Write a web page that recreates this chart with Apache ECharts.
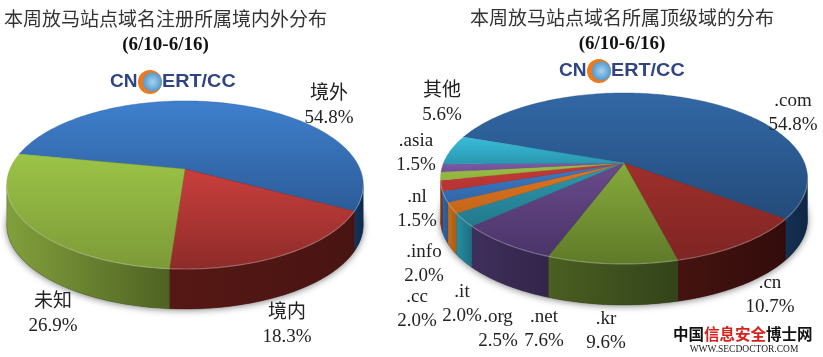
<!DOCTYPE html>
<html><head><meta charset="utf-8">
<style>html,body{margin:0;padding:0;background:#fff}#c{width:823px;height:357px}</style>
<script src="https://cdn.jsdelivr.net/npm/echarts@6/dist/echarts.min.js"></script>
</head><body><div id="c"></div>
<script>
// ---- data ----
const regionNames = ['境外','境内','未知'];
const regionValues = [54.8,18.3,26.9];
const domainNames = ['.com','.cn','.kr','.net','.org','.it','.cc','.info','.nl','.asia','其他'];
const domainValues = [54.8,10.7,9.6,7.6,2.5,2.0,2.0,2.0,1.5,1.5,5.6];
const titleLeft = '本周放马站点域名注册所属境内外分布';
const titleRight = '本周放马站点域名所属顶级域的分布';
const dateRange = '(6/10-6/16)';

// ---- styles ----
const SERIF = '"Liberation Serif","Noto Sans CJK SC",serif';
const regionColors = [
  {top:['#3f80cd','#2c5c99'],side:['#14345f','#0f2949']},
  {top:['#c93f3c','#8d2b29'],side:['#571815','#481412']},
  {top:['#9cc447','#7c9a37'],side:['#82a03c','#4e6222']}
];
const domainColors = [
  {top:['#3268a6','#234b7a'],side:['#143054','#0e2745']},
  {top:['#9f2f2c','#7e2523'],side:['#45130f','#320c0b']},
  {top:['#86aa3c','#5f7a29'],side:['#4a5f20','#33431a']},
  {top:['#6a4a8c','#4a3468'],side:['#3f2f5c','#33254a']},
  {top:['#2f99ae','#23788c'],side:['#268ea2','#1c6f82']},
  {top:['#e0761f','#c4661a'],side:['#c4701c','#a85c14']},
  {top:['#3d7cc6','#2f66a8'],side:['#2f66a8','#28588f']},
  {top:['#c63a38','#b43331'],side:['#8f2b29','#7d2523']},
  {top:['#9bbf45','#8fb33e'],side:['#6f8a30','#6f8a30']},
  {top:['#7d5aa6','#6f4f96'],side:['#5a4080','#5a4080']},
  {top:['#39bddc','#2a96ad'],side:['#2a96ad','#2a96ad']}
];
const regionLayout = {apex:[185,169],scaleX:175,scaleY:81,persp:0.19,depth:40,start:281};
const domainLayout = {apex:[624,163],scaleX:180.5,scaleY:82.7,persp:0.181,depth:41,start:289.5};
const regionLabelAt = [[329,106],[287,325],[53,314]];
const domainLabelAt = [[793,113],[770,295],[606,331],[544,329],[498,329],[462,304],[417,309],[424,264],[417,209],[416,153],[442,103]];

const rad = Math.PI/180;
function project(L,t,dy){
  const u=Math.sin(t*rad), v=-Math.cos(t*rad), w=1-L.persp*v;
  return [L.apex[0]+L.scaleX*u/w, L.apex[1]+L.scaleY*v/w+(dy||0)];
}
function arcPts(L,a,b,dy){
  const p=[], n=Math.max(2,Math.ceil((b-a)));
  for(let i=0;i<=n;i++) p.push(project(L,a+(b-a)*i/n,dy));
  return p;
}
function grad(c,horizontal){
  return {type:'linear',x:0,y:0,x2:horizontal?1:0,y2:horizontal?0:1,
    colorStops:[{offset:0,color:c[0]},{offset:1,color:c[1]}]};
}
// part of [a,b] that lies on the visible front wall, honouring wrap-around
function frontRanges(L,a,b){
  const t0=Math.acos(-L.persp)/rad, t1=360-t0, out=[];
  for(const k of [-360,0,360]){
    const s=Math.max(a,t0+k), e=Math.min(b,t1+k);
    if(e>s) out.push([s,e]);
  }
  return out;
}
function pieSeries(names,values,colors,L,labelAt){
  const total=values.reduce((s,x)=>s+x,0);
  return {
    type:'custom',coordinateSystem:'none',silent:true,animation:false,clip:false,
    data:values.map((v,i)=>({name:names[i],value:[v]})),
    renderItem(params,api){
      const i=params.dataIndex;
      let before=0; for(let k=0;k<i;k++) before+=values[k];
      const val=api.value(0);
      const a=L.start+before/total*360, b=a+val/total*360;
      const kids=[];
      if(i===0){
        const ring=arcPts(L,0,360,L.depth);
        kids.push({type:'polygon',z2:0,shape:{points:ring},
          style:{fill:'#555',shadowBlur:7,shadowColor:'rgba(0,0,0,0.5)',shadowOffsetY:1}});
      }
      for(const [s,e] of frontRanges(L,a,b)){
        const up=arcPts(L,s,e,0), low=arcPts(L,s,e,L.depth).reverse();
        kids.push({type:'polygon',z2:1,shape:{points:up.concat(low)},
          style:{fill:grad(colors[i].side,true),stroke:colors[i].side[1],lineWidth:0.4}});
      }
      kids.push({type:'polygon',z2:2,
        shape:{points:[L.apex].concat(arcPts(L,a,b,0))},
        style:{fill:grad(colors[i].top,false),stroke:colors[i].top[1],lineWidth:0.4}});
      for(const [s,e] of frontRanges(L,a,b)){
        kids.push({type:'polyline',z2:3,shape:{points:arcPts(L,s,e,0)},
          style:{fill:null,stroke:'rgba(255,255,255,0.28)',lineWidth:1.2}});
      }
      kids.push({type:'text',z2:5,x:labelAt[i][0],y:labelAt[i][1],
        style:{text:names[i]+'\n'+val.toFixed(1)+'%',font:'19px '+SERIF,fill:'#222',
          align:'center',verticalAlign:'middle',lineHeight:24}});
      return {type:'group',children:kids};
    }
  };
}
function logo(dx,dy){
  const base={font:'bold 18px "Liberation Sans",Arial,sans-serif',fill:'#2f4583',verticalAlign:'middle'};
  return [
    {type:'text',x:110+dx,y:82+dy,scaleX:1.06,style:Object.assign({text:'CN'},base)},
    {type:'circle',shape:{cx:150+dx,cy:82+dy,r:12},style:{fill:'#ec7a1c'}},
    {type:'circle',shape:{cx:152.5+dx,cy:82+dy,r:9.5},style:{fill:{type:'radial',x:0.5,y:0.5,r:0.6,
      colorStops:[{offset:0,color:'#a9d2ee'},{offset:1,color:'#3f8fcb'}]}}},
    {type:'text',x:162+dx,y:82+dy,scaleX:1.1,style:Object.assign({text:'ERT/CC'},base)}
  ];
}
function wm(x,text,fill){
  return {type:'text',x:x,y:334,style:{text:text,fill:fill,font:'bold 15.5px "Noto Sans CJK SC",sans-serif',verticalAlign:'middle'}};
}
const option={
  animation:false,
  backgroundColor:'#fff',
  title:[
    {text:titleLeft,left:4,top:12,textStyle:{fontFamily:SERIF,fontSize:19,fontWeight:'normal',color:'#333'},padding:0},
    {text:dateRange,left:165.5,textAlign:'center',top:36,textStyle:{fontFamily:SERIF,fontSize:19,fontWeight:'bold',color:'#111'},padding:0},
    {text:titleRight,left:470,top:11,textStyle:{fontFamily:SERIF,fontSize:19,fontWeight:'normal',color:'#333'},padding:0},
    {text:dateRange,left:622,textAlign:'center',top:35,textStyle:{fontFamily:SERIF,fontSize:19,fontWeight:'bold',color:'#111'},padding:0}
  ],
  graphic:[].concat(logo(0,0),logo(449,-11),[
    wm(673,'中国','#111'),wm(704,'信息安全','#d8201c'),wm(766,'博士网','#111'),
    {type:'text',x:744,y:349,style:{text:'WWW.SECDOCTOR.COM',font:'9.5px "Liberation Serif",serif',fill:'#222',align:'center',verticalAlign:'middle'}}
  ]),
  series:[
    pieSeries(regionNames,regionValues,regionColors,regionLayout,regionLabelAt),
    pieSeries(domainNames,domainValues,domainColors,domainLayout,domainLabelAt)
  ]
};
echarts.init(document.getElementById('c'),null,{renderer:'canvas'}).setOption(option);
</script></body></html>
